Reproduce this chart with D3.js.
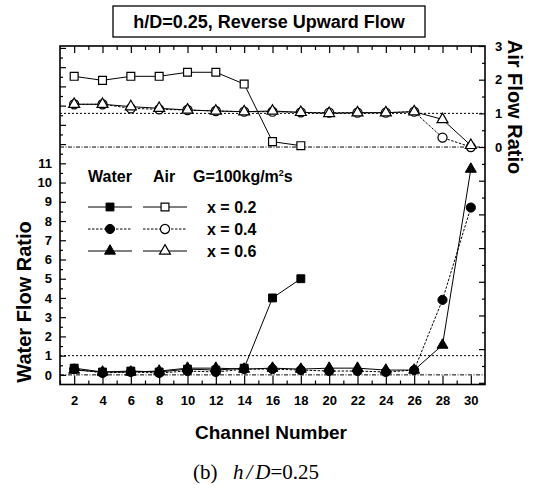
<!DOCTYPE html>
<html>
<head>
<meta charset="utf-8">
<script src="https://cdn.jsdelivr.net/npm/d3@7"></script>
<style>
  body { margin: 0; background: #fff; }
  svg { display: block; }
  text { font-family: "Liberation Sans", Arial, sans-serif; font-weight: bold; fill: #000; }
  .axis text { font-size: 13px; font-weight: bold; }
  .axis line { stroke: #000; stroke-width: 1.2; }
</style>
</head>
<body>
<svg id="chart" width="536" height="488" viewBox="0 0 536 488"></svg>
<script>
// channels (x axis)
const channels = [2, 4, 6, 8, 10, 12, 14, 16, 18, 20, 22, 24, 26, 28, 30]
const channelsX02 = [2, 4, 6, 8, 10, 12, 14, 16, 18]
const evenTicks = [2, 4, 6, 8, 10, 12, 14, 16, 18, 20, 22, 24, 26, 28, 30]
const oddTicks = [1, 3, 5, 7, 9, 11, 13, 15, 17, 19, 21, 23, 25, 27, 29, 31]

// water flow ratio (left axis)
const waterX02 = [0.35, 0.15, 0.2, 0.15, 0.3, 0.25, 0.35, 4.0, 5.0]
const waterX04 = [0.3, 0.1, 0.15, 0.1, 0.2, 0.15, 0.3, 0.3, 0.25, 0.2, 0.2, 0.15, 0.25, 3.9, 8.7]
const waterX06 = [0.25, 0.15, 0.15, 0.2, 0.35, 0.35, 0.3, 0.35, 0.3, 0.35, 0.35, 0.25, 0.25, 1.55, 10.7]

// air flow ratio (right axis)
const airX02 = [2.1, 1.98, 2.1, 2.1, 2.22, 2.22, 1.87, 0.16, 0.04]
const airX04 = [1.27, 1.27, 1.15, 1.12, 1.1, 1.07, 1.05, 1.05, 1.03, 1.02, 1.02, 1.02, 1.05, 0.28, 0.0]
const airX06 = [1.27, 1.27, 1.2, 1.15, 1.1, 1.07, 1.05, 1.07, 1.03, 1.0, 1.02, 1.02, 1.05, 0.82, 0.05]

const waterLabels = [0, 1, 2, 3, 4, 5, 6, 7, 8, 9, 10, 11]
const waterUnlabeled = [12, 13, 14, 15, 16, 17]
const airLabels = [0, 1, 2, 3]
const airUnlabeled = [-1, -2, -3, -4, -5, -6, -7]
const refWater = [0, 1]
const refAir = [0, 1]

const legendRows = ["x = 0.2", "x = 0.4", "x = 0.6"]

const svg = d3.select("#chart")
const L = 60, R = 485, T = 46, B = 384.5

const x = d3.scaleLinear().domain([1, 31]).range([L, R])
const yW = d3.scaleLinear().domain([-0.5, 17.1]).range([B, T])
const yA = d3.scaleLinear().domain([-7.05, 3]).range([B, T])

// title box
svg.append("rect")
    .attr("x", 113).attr("y", 6).attr("width", 312).attr("height", 31)
    .attr("fill", "none").attr("stroke", "#000").attr("stroke-width", 1.3)
svg.append("text")
    .attr("x", 269).attr("y", 28)
    .attr("text-anchor", "middle")
    .style("font-size", "18px")
    .text("h/D=0.25, Reverse Upward Flow")

// reference lines
const refG = svg.append("g")
refG.selectAll(".rw").data(refWater).enter().append("line")
    .attr("x1", L).attr("x2", R)
    .attr("y1", d => yW(d)).attr("y2", d => yW(d))
    .attr("stroke", "#000").attr("stroke-width", 1)
    .attr("stroke-dasharray", d => d === 0 ? "4,1.5,1,1.5" : "2,2")
refG.selectAll(".ra").data(refAir).enter().append("line")
    .attr("x1", L).attr("x2", R)
    .attr("y1", d => yA(d)).attr("y2", d => yA(d))
    .attr("stroke", "#000").attr("stroke-width", 1)
    .attr("stroke-dasharray", d => d === 0 ? "4,1.5,1,1.5" : "2,2")

// axes
const half = arr => arr.map(v => v + 0.5)

svg.append("g").attr("class", "axis")
    .attr("transform", `translate(0,${B})`)
    .call(d3.axisBottom(x).tickValues(evenTicks).tickSize(-9).tickPadding(11).tickFormat(d3.format("d")))
svg.append("g").attr("class", "axis")
    .attr("transform", `translate(0,${B})`)
    .call(d3.axisBottom(x).tickValues(oddTicks.slice(0, -1)).tickSize(-4).tickFormat(""))
svg.append("g").attr("class", "axis")
    .attr("transform", `translate(0,${T})`)
    .call(d3.axisTop(x).tickValues(evenTicks).tickSize(-7).tickFormat(""))
svg.append("g").attr("class", "axis")
    .attr("transform", `translate(0,${T})`)
    .call(d3.axisTop(x).tickValues(oddTicks.slice(1, -1)).tickSize(-4).tickFormat(""))

svg.append("g").attr("class", "axis")
    .attr("transform", `translate(${L},0)`)
    .call(d3.axisLeft(yW).tickValues(waterLabels).tickSize(-6).tickPadding(8).tickFormat(d3.format("d")))
svg.append("g").attr("class", "axis")
    .attr("transform", `translate(${L},0)`)
    .call(d3.axisLeft(yW).tickValues(waterUnlabeled).tickSize(-6).tickFormat(""))
svg.append("g").attr("class", "axis")
    .attr("transform", `translate(${L},0)`)
    .call(d3.axisLeft(yW).tickValues(half(waterLabels.concat(waterUnlabeled.slice(0, -1)))).tickSize(-3).tickFormat(""))

svg.append("g").attr("class", "axis")
    .attr("transform", `translate(${R},0)`)
    .call(d3.axisRight(yA).tickValues(airLabels).tickSize(-6).tickPadding(10).tickFormat(d3.format("d")))
svg.append("g").attr("class", "axis")
    .attr("transform", `translate(${R},0)`)
    .call(d3.axisRight(yA).tickValues(airUnlabeled).tickSize(-6).tickFormat(""))
svg.append("g").attr("class", "axis")
    .attr("transform", `translate(${R},0)`)
    .call(d3.axisRight(yA).tickValues(half([-7, -6, -5, -4, -3, -2, -1, 0, 1, 2])).tickSize(-3).tickFormat(""))

svg.selectAll(".axis .domain").remove()

// frame
svg.append("rect")
    .attr("x", L).attr("y", T).attr("width", R - L).attr("height", B - T)
    .attr("fill", "none").attr("stroke", "#000").attr("stroke-width", 1.6)

// axis titles
svg.append("text")
    .attr("transform", `translate(31,302) rotate(-90)`)
    .attr("text-anchor", "middle")
    .style("font-size", "20px")
    .text("Water Flow Ratio")
svg.append("text")
    .attr("transform", `translate(508,107) rotate(90)`)
    .attr("text-anchor", "middle")
    .style("font-size", "20px")
    .text("Air Flow Ratio")
svg.append("text")
    .attr("x", 271).attr("y", 439)
    .attr("text-anchor", "middle")
    .style("font-size", "19px")
    .text("Channel Number")

// caption
const cap = svg.append("text")
    .attr("y", 479)
    .style("font-family", "'Liberation Serif', 'DejaVu Serif', serif")
    .style("font-weight", "normal")
    .style("font-size", "21px")
cap.append("tspan").attr("x", 193).text("(b)")
cap.append("tspan").attr("x", 233).style("font-style", "italic").text("h")
cap.append("tspan").attr("dx", 3).style("font-style", "italic").text("/")
cap.append("tspan").attr("dx", 3).style("font-style", "italic").text("D")
cap.append("tspan").text("=0.25")

// series
const series = [
    { ch: channelsX02, w: waterX02, a: airX02, shape: d3.symbolSquare, size: 62, dash: null },
    { ch: channels, w: waterX04, a: airX04, shape: d3.symbolCircle, size: 66, dash: "2.5,1.5" },
    { ch: channels, w: waterX06, a: airX06, shape: d3.symbolTriangle, size: 52, dash: null }
]

const plot = svg.append("g")

series.forEach(s => {
    const pw = s.ch.map((c, i) => [x(c), yW(s.w[i])])
    const pa = s.ch.map((c, i) => [x(c), yA(s.a[i])])
    plot.append("path")
        .attr("d", d3.line()(pw))
        .attr("fill", "none").attr("stroke", "#000").attr("stroke-width", 1)
        .attr("stroke-dasharray", s.dash)
    plot.append("path")
        .attr("d", d3.line()(pa))
        .attr("fill", "none").attr("stroke", "#000").attr("stroke-width", 1)
        .attr("stroke-dasharray", s.dash)
})

series.forEach(s => {
    const sym = d3.symbol().type(s.shape).size(s.size)
    plot.selectAll(null).data(s.ch.map((c, i) => [c, s.a[i]])).enter()
        .append("path")
        .attr("d", sym)
        .attr("transform", d => `translate(${x(d[0])},${yA(d[1])})`)
        .attr("fill", "#fff").attr("stroke", "#000").attr("stroke-width", 1.2)
    plot.selectAll(null).data(s.ch.map((c, i) => [c, s.w[i]])).enter()
        .append("path")
        .attr("d", sym)
        .attr("transform", d => `translate(${x(d[0])},${yW(d[1])})`)
        .attr("fill", "#000").attr("stroke", "#000").attr("stroke-width", 1)
})

// legend
const leg = svg.append("g").style("font-size", "16px")
leg.append("text").attr("x", 88).attr("y", 182).text("Water")
leg.append("text").attr("x", 153).attr("y", 182).text("Air")
const gTxt = leg.append("text").attr("x", 193).attr("y", 182)
gTxt.append("tspan").text("G=100kg/m")
gTxt.append("tspan").attr("dy", -6).style("font-size", "9px").text("2")
gTxt.append("tspan").attr("dy", 6).text("s")

const rowY = [207, 229, 251]
series.forEach((s, i) => {
    const sym = d3.symbol().type(s.shape).size(s.size)
    const yy = rowY[i]
    leg.append("line").attr("x1", 88).attr("x2", 132).attr("y1", yy).attr("y2", yy)
        .attr("stroke", "#000").attr("stroke-width", 1).attr("stroke-dasharray", s.dash)
    leg.append("path").attr("d", sym).attr("transform", `translate(110,${yy})`)
        .attr("fill", "#000").attr("stroke", "#000")
    leg.append("line").attr("x1", 143).attr("x2", 187).attr("y1", yy).attr("y2", yy)
        .attr("stroke", "#000").attr("stroke-width", 1).attr("stroke-dasharray", s.dash)
    leg.append("path").attr("d", sym).attr("transform", `translate(165,${yy})`)
        .attr("fill", "#fff").attr("stroke", "#000").attr("stroke-width", 1.2)
    leg.append("text").attr("x", 207).attr("y", yy + 6).text(legendRows[i])
})
</script>
</body>
</html>
